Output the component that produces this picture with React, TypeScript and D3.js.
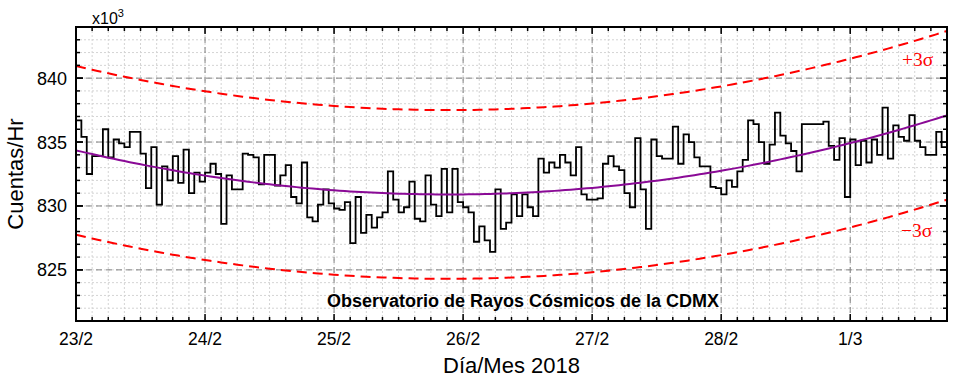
import * as d3 from 'd3';
import React from 'react';

const WIDTH = 962;
const HEIGHT = 384;
const MARGIN = { top: 27, right: 15, bottom: 63, left: 76 };

const START = new Date(2018, 1, 23);
const END = new Date(2018, 2, 1, 18);

// hourly counts (x10^3) starting 23/2 00:00
const counts = [
  836.7, 835.4, 832.5, 833.9, 833.9, 836.0, 833.8, 835.2, 834.9, 834.6, 835.8, 835.8,
  834.1, 831.4, 834.6, 830.1, 833.1, 832.0, 833.9, 831.8, 834.4, 831.0, 832.6, 831.9,
  832.6, 833.3, 832.5, 828.6, 832.4, 831.3, 831.3, 834.1, 834.0, 833.8, 831.7, 834.0,
  834.0, 831.6, 832.4, 833.2, 830.7, 830.2, 833.4, 829.1, 828.8, 830.1, 831.3, 830.2,
  829.8, 829.7, 830.3, 827.1, 830.7, 827.9, 829.3, 828.3, 829.1, 829.5, 832.7, 830.5,
  829.5, 829.9, 831.9, 829.0, 828.8, 832.4, 830.1, 829.2, 832.9, 829.5, 832.9, 830.3,
  829.9, 829.5, 827.2, 828.4, 827.3, 826.4, 831.3, 828.2, 828.7, 830.9, 829.2, 830.9,
  829.9, 829.2, 833.7, 832.6, 833.4, 833.0, 834.0, 833.4, 832.4, 834.6, 830.9, 830.5,
  830.5, 830.6, 833.3, 833.9, 833.1, 832.8, 831.0, 829.9, 835.3, 831.3, 828.2, 835.2,
  833.9, 833.7, 833.7, 836.2, 833.3, 835.6, 835.0, 833.8, 833.1, 833.1, 831.5, 831.4,
  830.9, 832.0, 831.5, 832.7, 833.6, 836.7, 836.4, 835.0, 833.3, 834.8, 837.3, 835.5,
  834.9, 834.3, 832.7, 836.4, 836.4, 836.4, 836.4, 836.6, 834.7, 833.6, 835.3, 830.7,
  835.2, 833.2, 835.1, 833.4, 835.2, 834.0, 837.7, 833.7, 836.3, 835.4, 835.1, 837.1,
  835.1, 834.6, 834.0, 834.0, 835.8, 834.6,
];

// quadratic fit c0 + c1*t + c2*t^2, t in days since 23/2
const fitCoef = [834.35, -2.392, 0.4145];
const sigma3 = 6.6;

const yTicks = [825, 830, 835, 840];
const yDomain = [821, 844];

const SANS = '"Liberation Sans", Arial, sans-serif';
const SERIF = '"Liberation Serif", "Times New Roman", serif';

export default function App() {
  const x0 = MARGIN.left;
  const x1 = WIDTH - MARGIN.right;
  const y0 = MARGIN.top;
  const y1 = HEIGHT - MARGIN.bottom;

  const xScale = d3.scaleTime().domain([START, END]).range([x0, x1]);
  const yScale = d3.scaleLinear().domain(yDomain).range([y1, y0]);

  const dayTicks = d3.timeDay.range(START, d3.timeHour.offset(END, 1));
  const hourTicks = d3.timeHour.every(3)!.range(START, d3.timeHour.offset(END, 1));
  const minorY = d3.range(yDomain[0] + 1, yDomain[1]);

  const points: [Date, number][] = counts.map((c, i) => [d3.timeHour.offset(START, i), c]);
  points.push([d3.timeHour.offset(START, counts.length), counts[counts.length - 1]]);

  const stepLine = d3
    .line<[Date, number]>()
    .x(d => xScale(d[0]))
    .y(d => yScale(d[1]))
    .curve(d3.curveStepAfter);

  const fit = (t: number) => fitCoef[0] + fitCoef[1] * t + fitCoef[2] * t * t;
  const fitTimes = d3.timeHour.every(1)!.range(START, d3.timeHour.offset(END, 1));
  const days = (d: Date) => (d.getTime() - START.getTime()) / 864e5;

  const curve = (offset: number) =>
    d3
      .line<Date>()
      .x(d => xScale(d))
      .y(d => yScale(fit(days(d)) + offset))(fitTimes);

  const fmt = d3.timeFormat('%-d/%-m');

  return (
    <svg width={WIDTH} height={HEIGHT} style={{ position: 'absolute', left: 0, top: 0, background: '#fff' }}>
      <defs>
        <clipPath id="plot">
          <rect x={x0} y={y0} width={x1 - x0} height={y1 - y0} />
        </clipPath>
      </defs>

      {/* minor grid */}
      <g stroke="#d4d4d4" strokeWidth={1} strokeDasharray="2,2">
        {hourTicks.map((d, i) => (
          <line key={'mx' + i} x1={xScale(d)} x2={xScale(d)} y1={y0} y2={y1} />
        ))}
        {minorY.map(v => (
          <line key={'my' + v} x1={x0} x2={x1} y1={yScale(v)} y2={yScale(v)} />
        ))}
      </g>

      {/* major grid */}
      <g stroke="#808080" strokeWidth={1} strokeDasharray="6,4">
        {dayTicks.map((d, i) => (
          <line key={'gx' + i} x1={xScale(d)} x2={xScale(d)} y1={y0} y2={y1} />
        ))}
        {yTicks.map(v => (
          <line key={'gy' + v} x1={x0} x2={x1} y1={yScale(v)} y2={yScale(v)} />
        ))}
      </g>

      <g clipPath="url(#plot)">
        <path d={curve(sigma3) || ''} fill="none" stroke="#ff0000" strokeWidth={2} strokeDasharray="10,6" />
        <path d={curve(-sigma3) || ''} fill="none" stroke="#ff0000" strokeWidth={2} strokeDasharray="10,6" />
        <path d={stepLine(points) || ''} fill="none" stroke="#000" strokeWidth={1.8} />
        <path d={curve(0) || ''} fill="none" stroke="#8a0a96" strokeWidth={2} />
      </g>

      {/* ticks */}
      <g stroke="#000" strokeWidth={1.5}>
        {hourTicks.map((d, i) => {
          const major = d.getHours() === 0;
          const len = major ? 7 : 4;
          const x = xScale(d);
          return (
            <g key={'tx' + i}>
              <line x1={x} x2={x} y1={y1} y2={y1 - len} />
              <line x1={x} x2={x} y1={y0} y2={y0 + len} />
            </g>
          );
        })}
        {minorY.concat(yTicks).map(v => {
          const len = yTicks.includes(v) ? 7 : 4;
          const y = yScale(v);
          return (
            <g key={'ty' + v}>
              <line x1={x0} x2={x0 + len} y1={y} y2={y} />
              <line x1={x1} x2={x1 - len} y1={y} y2={y} />
            </g>
          );
        })}
      </g>

      <rect x={x0} y={y0} width={x1 - x0} height={y1 - y0} fill="none" stroke="#000" strokeWidth={2} />

      {/* tick labels */}
      <g fontFamily={SANS} fill="#000">
        {dayTicks.map((d, i) => (
          <text key={'lx' + i} x={xScale(d)} y={345} textAnchor="middle" fontSize={17.5}>
            {fmt(d)}
          </text>
        ))}
        {yTicks.map(v => (
          <text key={'ly' + v} x={67} y={yScale(v) + 6.5} textAnchor="end" fontSize={18}>
            {v}
          </text>
        ))}
      </g>

      <text x={92} y={24} fontFamily={SANS} fontSize={16} fill="#000">
        x10<tspan dy={-7} fontSize={11}>3</tspan>
      </text>

      <text x={(x0 + x1) / 2} y={373} textAnchor="middle" fontFamily={SANS} fontSize={22} fill="#000">
        Día/Mes 2018
      </text>
      <text
        transform={`translate(23,${(y0 + y1) / 2}) rotate(-90)`}
        textAnchor="middle"
        fontFamily={SANS}
        fontSize={22}
        fill="#000"
      >
        Cuentas/Hr
      </text>

      <text x={523} y={307} textAnchor="middle" fontFamily={SANS} fontSize={18} fontWeight="bold" fill="#000">
        Observatorio de Rayos Cósmicos de la CDMX
      </text>

      <text x={902} y={66} fontFamily={SERIF} fontSize={19.5} fill="#ff0000">
        +3σ
      </text>
      <text x={901} y={237} fontFamily={SERIF} fontSize={19.5} fill="#ff0000">
        −3σ
      </text>
    </svg>
  );
}
